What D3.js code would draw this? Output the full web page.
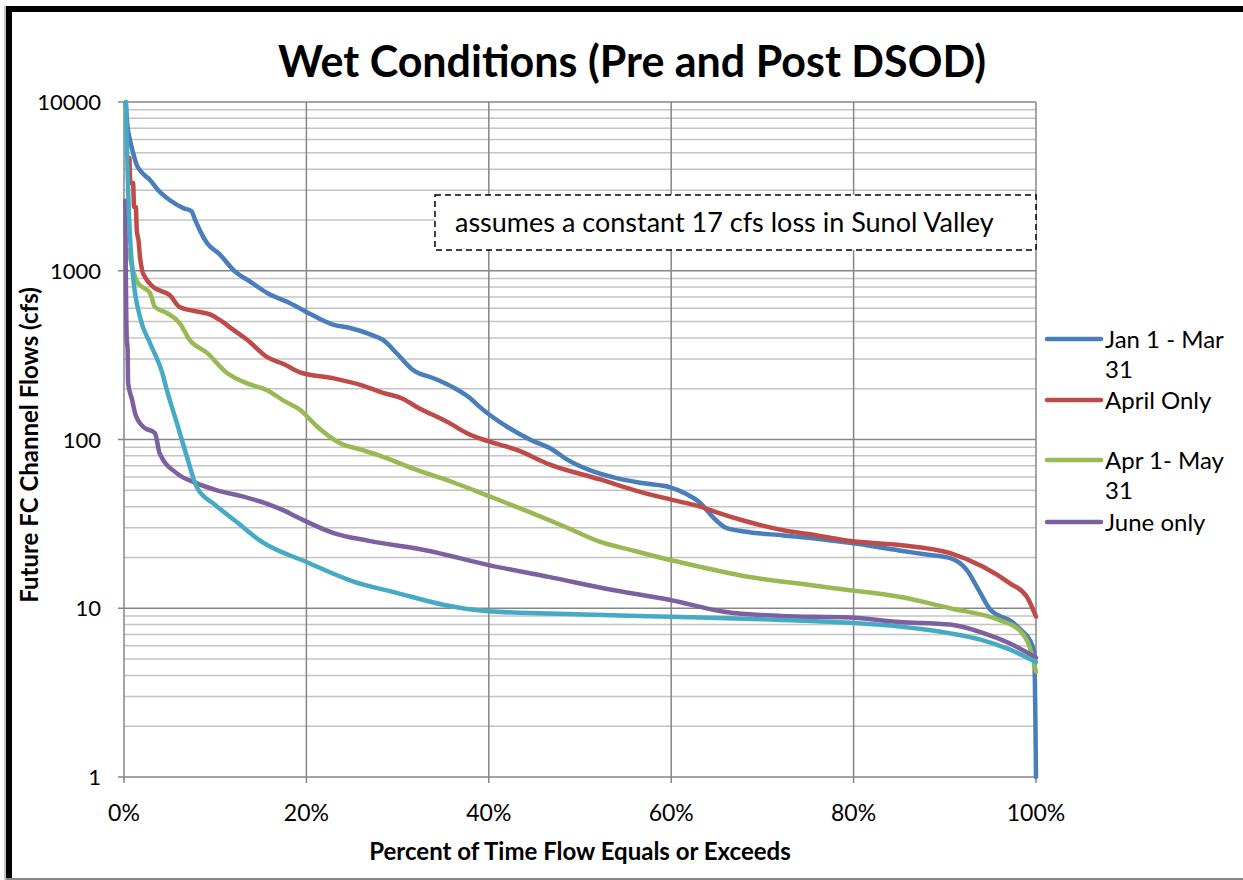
<!DOCTYPE html>
<html>
<head>
<meta charset="utf-8">
<title>Wet Conditions</title>
<script src="https://cdn.jsdelivr.net/npm/d3@7"></script>
<style>
  body { margin: 0; background: #fff; }
  text { font-family: Lato, "Open Sans", sans-serif; fill: #000; }
  .grid-major { stroke: #868686; stroke-width: 1.5; }
  .grid-minor { stroke: #c4c4c4; stroke-width: 1.5; }
  .series { fill: none; stroke-width: 4.5; stroke-linejoin: round; stroke-linecap: round; }
</style>
</head>
<body>
<script>
// percent of time (x) and flow in cfs (y)
var janMar = [[0.2,10000],[0.35,7500],[0.66,5950],[1.0,5000],[1.4,4230],[2.0,3800],[2.85,3450],[3.7,3020],[5,2625],[6.5,2350],[7.4,2250],[7.8,2000],[8.4,1700],[9.1,1460],[10.5,1250],[12,1010],[14,850],[15.7,738],[18,650],[20,570],[22.9,480],[24.8,458],[27,420],[28.4,389],[30,320],[31.7,258],[34,230],[36,205],[38,175],[39,156],[42,119],[44.5,100],[47,87],[48.6,76],[51,66],[54,59],[57,55],[59.9,52],[61.5,48],[63.2,42],[64.5,35],[66,30],[68,28.5],[72.3,27],[76,25.8],[79.6,24.4],[85,22],[88,20.8],[90.6,19.8],[92.4,16.9],[93.9,12.3],[95,9.8],[96,9],[97.1,8.5],[98.5,7.3],[99.3,6.5],[99.8,5.5],[100,1]];
var aprilOnly = [[0.6,4660],[0.7,3310],[1.0,3310],[1.1,2390],[1.3,2390],[1.4,1740],[1.6,1500],[1.75,1206],[2.0,1000],[2.3,918],[3.2,802],[4,760],[5,718],[6.1,610],[8.3,570],[9.5,550],[10.5,511],[12,446],[13.5,390],[15.7,308],[17.5,280],[19.3,250],[22.9,231],[26,210],[28.4,189],[30.5,175],[32.1,156],[35.7,125],[37.6,109],[40.1,97],[43,87],[46.7,71],[52.2,58],[56,50],[60,44],[63.2,40],[65,37],[68,33],[72.3,29],[76,27],[79.6,25],[85,23.7],[90.6,21.2],[94.2,17.6],[97.1,14.1],[99,11.7],[100,8.9]];
var aprMay = [[0.5,1330],[1.0,1000],[1.5,850],[2.0,802],[2.85,738],[3.4,610],[4.7,562],[6.1,490],[7.2,389],[9.1,326],[11.3,248],[13.5,215],[15.7,196],[17.5,170],[19.3,150],[21.2,119],[23.7,95],[26,87],[28.4,79],[32.1,66],[36,56],[40.1,46],[44,38],[48.6,30],[52,25],[55.8,22],[59.9,19.3],[64,17.2],[68.6,15.3],[74,14],[79.6,12.8],[85,11.7],[90.6,10],[96,8.5],[98.2,7.4],[99.3,5.9],[100,4.2]];
var juneOnly = [[0.15,2600],[0.2,1000],[0.3,400],[0.4,340],[0.45,216],[0.9,171],[1.2,144],[2.1,119],[3.4,109],[3.9,83],[5.8,63],[8,55],[10.2,50],[13,46],[16,41],[17.5,38],[19.3,34],[22.9,28],[27,25],[33.2,22],[40,18],[46.7,15.3],[53,13],[59.9,11.2],[66,9.5],[72,9.0],[79.6,8.8],[85,8.3],[90.6,8.0],[94,7.2],[97.1,6.2],[100,5.1]];
var unlabeled = [[0.2,10000],[0.3,6000],[0.5,2500],[0.66,1590],[1.0,918],[1.75,532],[2.85,373],[4.2,248],[4.7,196],[5.8,125],[6.9,79],[8,52],[10,41],[12.5,32],[15,25],[20,18.8],[25,14.5],[30,12.3],[35,10.5],[40,9.6],[46.7,9.3],[59.9,8.9],[70,8.6],[79.6,8.2],[85,7.8],[90.6,7.1],[94,6.5],[97.1,5.7],[100,4.8]];

var seriesColors = ["#4a7ebb", "#be4b48", "#98b954", "#7d60a0", "#46aac5"];
var seriesData = [janMar, aprilOnly, aprMay, juneOnly, unlabeled];
var xTicks = [0, 20, 40, 60, 80, 100];
var yTicks = [1, 10, 100, 1000, 10000];

var W = 1243, H = 880;
var plot = {left: 124, top: 102, width: 912, height: 675};

var svg = d3.select("body").append("svg").attr("width", W).attr("height", H);

// frame
svg.append("rect").attr("x", 0).attr("y", 0).attr("width", W).attr("height", H).attr("fill", "#fff");
svg.append("line").attr("x1", 9).attr("x2", 9).attr("y1", 6).attr("y2", H).attr("stroke", "#000").attr("stroke-width", 6);
svg.append("line").attr("x1", 5).attr("x2", 5).attr("y1", 6).attr("y2", H).attr("stroke", "#888").attr("stroke-width", 1);
svg.append("line").attr("x1", 6).attr("x2", W).attr("y1", 9).attr("y2", 9).attr("stroke", "#000").attr("stroke-width", 6);
svg.append("line").attr("x1", 6).attr("x2", W).attr("y1", 879).attr("y2", 879).attr("stroke", "#888").attr("stroke-width", 2);

var x = d3.scaleLinear().domain([0, 100]).range([plot.left, plot.left + plot.width]);
var y = d3.scaleLog().domain([1, 10000]).range([plot.top + plot.height, plot.top]);

var g = svg.append("g");

// minor gridlines
var minor = [];
yTicks.slice(0, -1).forEach(function(d) {
  for (var k = 2; k < 10; k++) minor.push(d * k);
});
g.selectAll(".grid-minor").data(minor).enter().append("line")
  .attr("class", "grid-minor")
  .attr("x1", plot.left).attr("x2", plot.left + plot.width)
  .attr("y1", function(d) { return y(d); }).attr("y2", function(d) { return y(d); });

// major gridlines
g.selectAll(".grid-major-y").data(yTicks).enter().append("line")
  .attr("class", "grid-major")
  .attr("x1", plot.left - 6).attr("x2", plot.left + plot.width)
  .attr("y1", function(d) { return y(d); }).attr("y2", function(d) { return y(d); });
g.selectAll(".grid-major-x").data(xTicks).enter().append("line")
  .attr("class", "grid-major")
  .attr("y1", plot.top).attr("y2", plot.top + plot.height + 6)
  .attr("x1", function(d) { return x(d); }).attr("x2", function(d) { return x(d); });

// tick labels
svg.selectAll(".ylab").data(yTicks).enter().append("text")
  .attr("x", plot.left - 23).attr("y", function(d) { return y(d) + 8; })
  .attr("text-anchor", "end").style("font-size", "22px")
  .text(function(d) { return d; });
svg.selectAll(".xlab").data(xTicks).enter().append("text")
  .attr("x", function(d) { return x(d); }).attr("y", plot.top + plot.height + 44)
  .attr("text-anchor", "middle").style("font-size", "23px")
  .text(function(d) { return d + "%"; });

// titles
svg.append("text").attr("x", 632).attr("y", 77).attr("text-anchor", "middle")
  .style("font-size", "43px").style("font-weight", "bold")
  .text("Wet Conditions (Pre and Post DSOD)");
svg.append("text").attr("x", 580).attr("y", 860).attr("text-anchor", "middle")
  .style("font-size", "24px").style("font-weight", "bold")
  .text("Percent of Time Flow Equals or Exceeds");
svg.append("text").attr("transform", "translate(38,445) rotate(-90)").attr("text-anchor", "middle")
  .style("font-size", "24px").style("font-weight", "bold")
  .text("Future FC Channel Flows (cfs)");

// note box
svg.append("rect").attr("x", 435).attr("y", 195).attr("width", 601).attr("height", 55)
  .attr("fill", "#fff").attr("stroke", "#000").attr("stroke-width", 1.5).attr("stroke-dasharray", "6,4");
svg.append("text").attr("x", 455).attr("y", 232).style("font-size", "27px")
  .text("assumes a constant 17 cfs loss in Sunol Valley");

// series
var line = d3.line()
  .curve(d3.curveMonotoneX)
  .x(function(d) { return x(d[0]); })
  .y(function(d) { return y(d[1]); });

svg.selectAll(".series").data(seriesData).enter().append("path")
  .attr("class", "series")
  .attr("stroke", function(d, i) { return seriesColors[i]; })
  .attr("d", line);

// legend
var legendRows = [
  {i: 0, y: 339, lines: ["Jan 1 - Mar", "31"]},
  {i: 1, y: 400, lines: ["April Only"]},
  {i: 2, y: 460, lines: ["Apr 1- May", "31"]},
  {i: 3, y: 522, lines: ["June only"]}
];
var lg = svg.append("g").selectAll("g").data(legendRows).enter().append("g");
lg.append("line")
  .attr("x1", 1047).attr("x2", 1101)
  .attr("y1", function(d) { return d.y; }).attr("y2", function(d) { return d.y; })
  .attr("stroke", function(d) { return seriesColors[d.i]; })
  .attr("stroke-width", 4.5).attr("stroke-linecap", "round");
lg.each(function(d) {
  var sel = d3.select(this);
  d.lines.forEach(function(t, k) {
    sel.append("text").attr("x", 1105).attr("y", d.y + 9 + k * 30)
      .style("font-size", "24px").text(t);
  });
});
</script>
</body>
</html>
